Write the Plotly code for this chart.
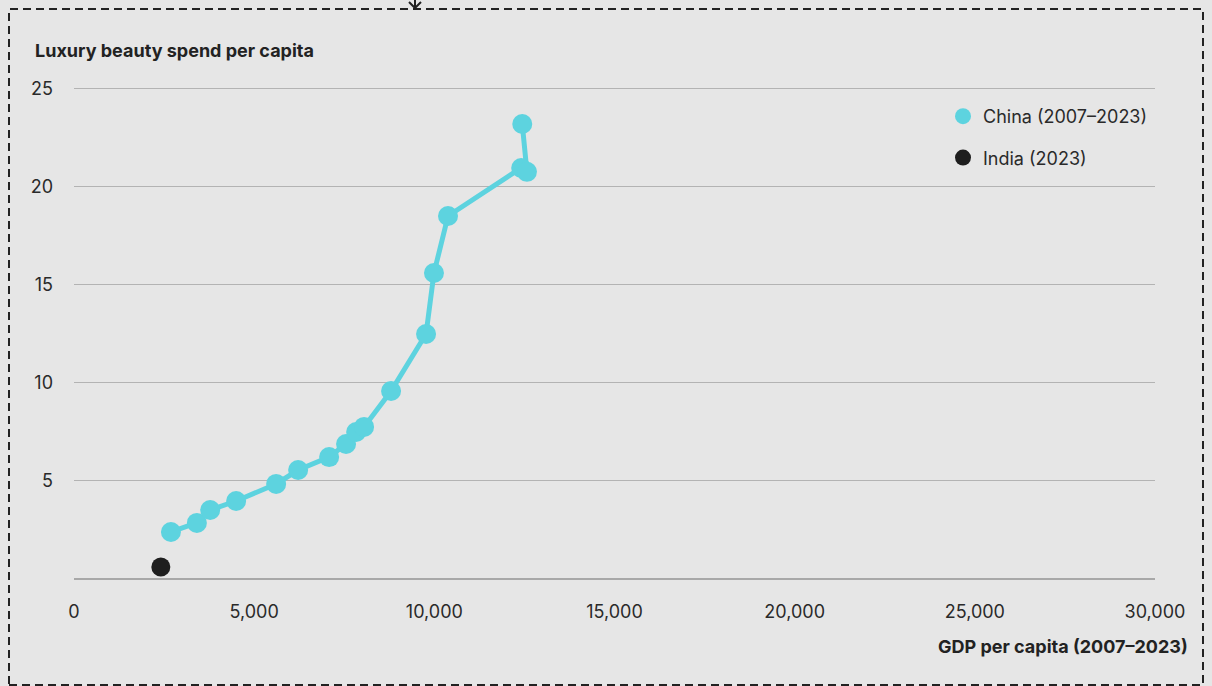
import plotly.graph_objects as go

# China 2007-2023 (path order)
china_gdp = [2690, 3410, 3780, 4500, 5610, 6220, 7080, 7550, 7830, 8050,
             8800, 9770, 9990, 10380, 12410, 12570, 12440]
china_spend = [2.40, 2.86, 3.52, 3.98, 4.85, 5.56, 6.22, 6.89, 7.50, 7.76,
               9.59, 12.50, 15.61, 18.52, 20.97, 20.77, 23.21]
india_gdp = [2410]
india_spend = [0.61]

x_ticks = [0, 5000, 10000, 15000, 20000, 25000, 30000]
x_tick_labels = ["0", "5,000", "10,000", "15,000", "20,000", "25,000", "30,000"]
y_ticks = [5, 10, 15, 20, 25]

CYAN = "#5dd3df"
DARK = "#1e1e1e"
BG = "#e6e6e6"
FONT = "Inter"
TXT = "#2a2a2a"
FS = 18

W, H = 1212, 686
Y_TOP = 25.1
L, R, B = 74, 57, 107
PH = 579 - 89  # pixels for 25 units
T = int(round(89 - (Y_TOP - 25) * PH / 25))
PW = W - L - R
PHT = H - T - B


def px(x):
    return (x - L) / PW


def py(y):
    return (H - B - y) / PHT


fig = go.Figure()
fig.add_trace(go.Scatter(
    x=china_gdp, y=china_spend, mode="lines+markers",
    line=dict(color=CYAN, width=5),
    marker=dict(color=CYAN, size=20),
    showlegend=False, cliponaxis=False, hoverinfo="x+y"))
fig.add_trace(go.Scatter(
    x=india_gdp, y=india_spend, mode="markers",
    marker=dict(color=DARK, size=19),
    showlegend=False, cliponaxis=False))
# legend entries
fig.add_trace(go.Scatter(x=[None], y=[None], mode="markers", name="China (2007–2023)",
                         marker=dict(color=CYAN, size=19), legendgroup="a"))
fig.add_trace(go.Scatter(x=[None], y=[None], mode="markers", name="India (2023)",
                         marker=dict(color=DARK, size=19), legendgroup="b"))

shapes = [
    dict(type="rect", xref="paper", yref="paper",
         x0=px(9), x1=px(1203), y0=py(685), y1=py(9),
         line=dict(color="#222222", width=2, dash="8px,5px"), layer="below"),
    dict(type="line", xref="paper", yref="paper",
         x0=px(415), x1=px(415), y0=py(-2), y1=py(8),
         line=dict(color="#222222", width=2)),
    dict(type="path", xref="paper", yref="paper",
         path=f"M {px(409)},{py(2)} L {px(415)},{py(8)} L {px(421)},{py(2)}",
         line=dict(color="#222222", width=2)),
]

fig.update_layout(
    width=W, height=H,
    margin=dict(l=L, r=R, t=T, b=B, pad=0),
    paper_bgcolor=BG, plot_bgcolor=BG,
    font=dict(family=FONT, size=FS, color=TXT),
    shapes=shapes,
    legend=dict(x=px(943), y=py(98), xanchor="left", yanchor="top",
                bgcolor="rgba(0,0,0,0)", font=dict(size=FS, color=TXT),
                tracegroupgap=15, itemsizing="trace"),
    xaxis=dict(range=[0, 30000], tickvals=x_ticks, ticktext=x_tick_labels,
               showgrid=False, zeroline=False, showline=False,
               ticks="", ticklabelstandoff=20,
               tickfont=dict(size=FS, color=TXT)),
    yaxis=dict(range=[0, Y_TOP], tickvals=y_ticks, showgrid=True,
               gridcolor="#b3b3b3", gridwidth=1,
               zeroline=True, zerolinecolor="#a8a8a8", zerolinewidth=2,
               showline=False, ticks="", ticklabelstandoff=20,
               tickfont=dict(size=FS, color=TXT)),
    annotations=[
        dict(text="<b>Luxury beauty spend per capita</b>", xref="paper", yref="paper",
             x=px(33), y=py(51), xanchor="left", yanchor="middle", showarrow=False,
             font=dict(size=FS, color="#222222")),
        dict(text="<b>GDP per capita (2007–2023)</b>", xref="paper", yref="paper",
             x=px(1190), y=py(646), xanchor="right", yanchor="middle", showarrow=False,
             font=dict(size=FS, color="#222222")),
    ],
)

fig.write_html("out.html")
